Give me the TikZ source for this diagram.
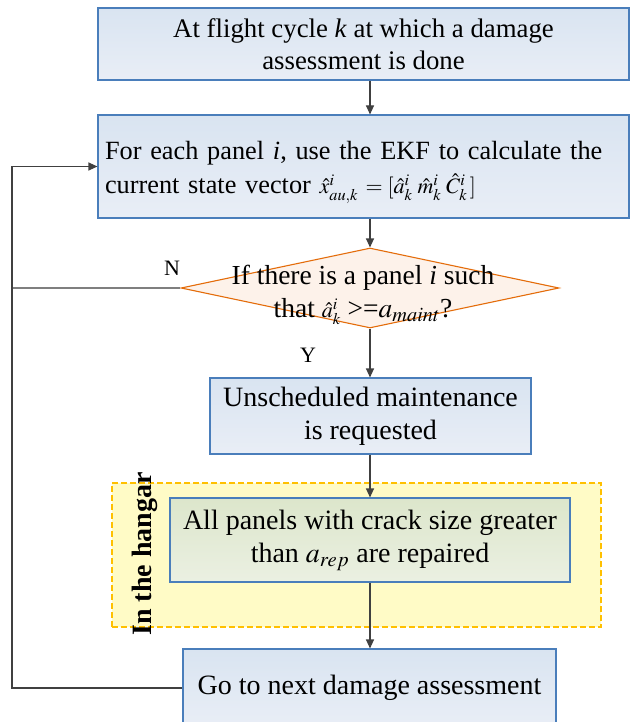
\documentclass[tikz,border=0pt]{standalone}
\usepackage{mathptmx}
\usepackage{fontspec}
\setmainfont{Liberation Serif}
\usetikzlibrary{arrows.meta,shapes.geometric}
\definecolor{bluetop}{HTML}{D9E4F1}
\definecolor{bluebot}{HTML}{E9EEF6}
\definecolor{boxline}{HTML}{4A7EBB}
\definecolor{orfill}{HTML}{FDF2EA}
\definecolor{orline}{HTML}{E46C0A}
\definecolor{grtop}{HTML}{DCE6CB}
\definecolor{grbot}{HTML}{EBF0E2}
\definecolor{yfill}{HTML}{FFFBC6}
\definecolor{yline}{HTML}{FFC000}
\definecolor{arrowc}{HTML}{404040}
\definecolor{ngray}{HTML}{7F7F7F}
\begin{document}
\begin{tikzpicture}[x=1pt,y=-1pt,
  every node/.style={font=\fontsize{28}{33}\selectfont, inner sep=0pt},
  procbox/.style={rectangle, draw=boxline, line width=1.1pt, top color=bluetop, bottom color=bluebot},
  greenbox/.style={rectangle, draw=boxline, line width=1.1pt, top color=grtop, bottom color=grbot},
  decision/.style={diamond, draw=orline, line width=1.1pt, fill=orfill},
  zone/.style={rectangle, draw=yline, dash pattern=on 6pt off 3pt, line width=1.2pt, fill=yfill},
  arr/.style={draw=arrowc, line width=1.1pt, -{Triangle[length=9pt,width=8pt]}},
  plain/.style={draw=arrowc, line width=1.1pt},
  nline/.style={draw=ngray, line width=1.1pt}
]
\useasboundingbox (0,0) rectangle (630,722);

% hangar zone (behind)
\node[zone, minimum width=489pt, minimum height=144pt] (hz) at (356.5,555) {};

\node[procbox, minimum width=531pt, minimum height=72pt, align=center,
      font=\fontsize{26.8}{32}\selectfont] (b1) at (363.5,44)
  {At flight cycle \textit{k} at which a damage\\assessment is done};

\node[procbox, minimum width=531pt, minimum height=103pt, text width=517pt, align=left,
      font=\fontsize{26.3}{34}\selectfont] (b2) at (363.5,166.5)
  {\rule{0pt}{30pt}For each panel \textit{i}, use the EKF to calculate the\\current state vector\
   {\fontsize{22}{26}\selectfont$\hat{x}^{i}_{au,k}\, = [\hat{a}^{i}_{k}\;\hat{m}^{i}_{k}\;\hat{C}^{i}_{k}\,]$}};

\node[decision, minimum width=378pt, minimum height=80pt] (d) at (370,288) {};
\node[align=center, font=\fontsize{27.5}{33}\selectfont] (dt) at (363,295)
  {If there is a panel \textit{i} such\\that {\fontsize{22}{26}\selectfont$\hat{a}^{i}_{k}$} >=$a_{maint}$?};

\node[procbox, minimum width=321pt, minimum height=76pt, align=center] (b3) at (370.5,416)
  {Unscheduled maintenance\\is requested};

\node[greenbox, minimum width=400pt, minimum height=84pt, align=center] (b4) at (370,540)
  {All panels with crack size greater\\than $a_{rep}$ are repaired};

\node[procbox, minimum width=373pt, minimum height=78pt] (b5) at (369.5,688)
  {Go to next damage assessment};

\node[rotate=90, font=\fontsize{28}{33}\selectfont\bfseries] (hl) at (145,554) {In the hangar};

\node (nl) at (172,268) {\fontsize{22}{26}\selectfont N};
\node (yl) at (308,355) {\fontsize{22}{26}\selectfont Y};

\coordinate (lx) at (12,0);

\draw[arr] (b1.south -| d.north) -- (b2.north -| d.north);
\draw[arr] (b2.south -| d.north) -- (d.north);
\draw[arr] (d.south) -- (b3.north -| d.south);
\draw[arr] (b3.south -| d.south) -- (b4.north -| d.south);
\draw[arr] (b4.south -| d.south) -- (b5.north -| d.south);
\draw[nline] (d.west) -- (d.west -| lx);
\draw[arr] (b5.west) -- (b5.west -| lx) -- (b2.west -| lx) -- (b2.west);
\end{tikzpicture}
\end{document}
